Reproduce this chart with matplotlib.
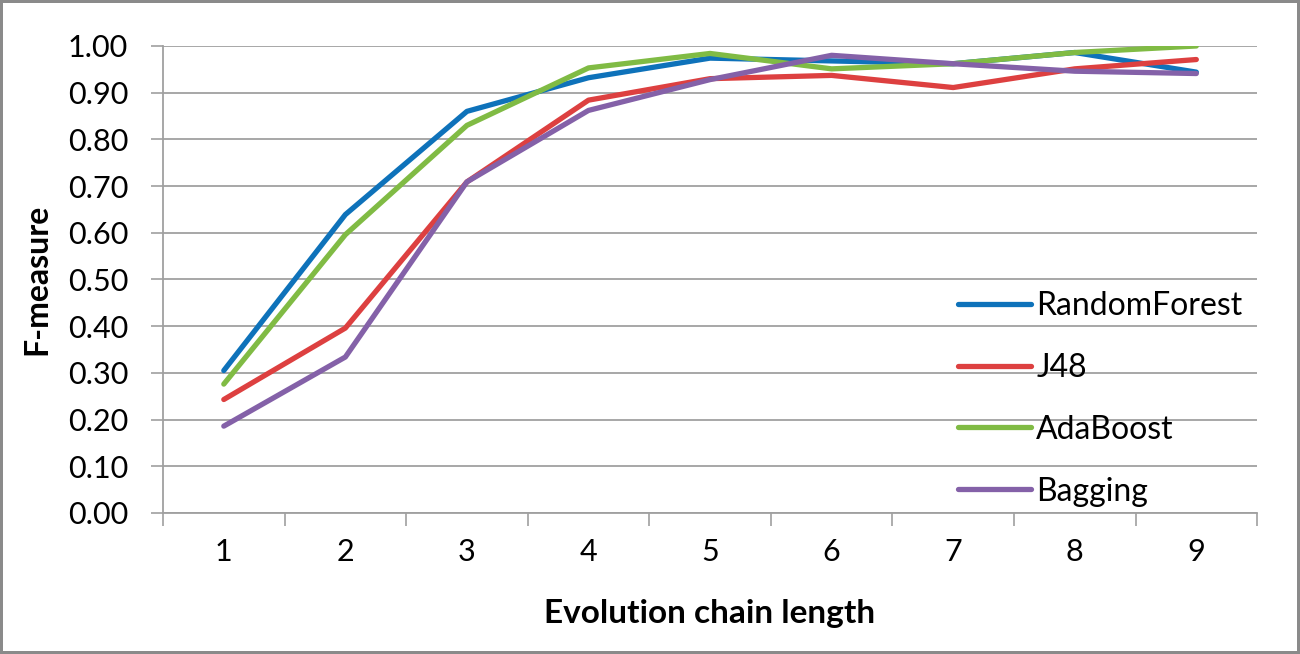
import numpy as np
import matplotlib
matplotlib.use("Agg")
import matplotlib.pyplot as plt

chain_length = [1, 2, 3, 4, 5, 6, 7, 8, 9]
random_forest = [0.305, 0.639, 0.860, 0.932, 0.974, 0.968, 0.962, 0.986, 0.944]
j48 = [0.243, 0.396, 0.709, 0.884, 0.930, 0.937, 0.911, 0.951, 0.971]
adaboost = [0.276, 0.596, 0.830, 0.953, 0.984, 0.951, 0.962, 0.986, 1.000]
bagging = [0.186, 0.334, 0.709, 0.862, 0.928, 0.980, 0.962, 0.946, 0.941]

series = [
    ("RandomForest", random_forest, "#0E72BA"),
    ("J48", j48, "#DD4040"),
    ("AdaBoost", adaboost, "#80BB44"),
    ("Bagging", bagging, "#8461A8"),
]

plt.rcParams['font.family'] = ['Lato', 'DejaVu Sans']

fig = plt.figure(figsize=(13, 6.54), dpi=100)
fig.patch.set_edgecolor("#8a8a8a")
fig.patch.set_linewidth(4)
ax = fig.add_axes([0.1254, 0.2156, 0.8416, 0.7141])

for name, vals, col in series:
    ax.plot(chain_length, vals, color=col, lw=3.8, label=name, solid_capstyle='round')

ax.set_xlim(0.5, 9.5)
ax.set_ylim(0, 1.0)
ax.set_yticks(np.arange(0, 1.01, 0.1))
ax.set_yticklabels([f"{v:.2f}" for v in np.arange(0, 1.01, 0.1)])
ax.set_xticks(chain_length)
ax.set_xticks(np.arange(0.5, 9.6, 1.0), minor=True)
ax.tick_params(axis='x', which='major', length=0, labelsize=22, pad=18)
ax.tick_params(axis='x', which='minor', length=9, width=1.2, color="#a0a0a0")
ax.tick_params(axis='y', length=9, width=1.2, color="#a0a0a0", labelsize=22, pad=16)

ax.grid(axis='y', color="#a0a0a0", lw=1.3)
ax.set_axisbelow(True)
for s in ['top', 'right']:
    ax.spines[s].set_visible(False)
for s in ['left', 'bottom']:
    ax.spines[s].set_color("#a0a0a0")
    ax.spines[s].set_linewidth(1.3)

ax.set_xlabel("Evolution chain length", fontsize=24, fontweight='bold', labelpad=24)
ax.set_ylabel("F-measure", fontsize=23, fontweight='bold', labelpad=12)

ax.legend(loc='upper left', bbox_to_anchor=(0.712, 0.51), frameon=False,
          fontsize=23, handlelength=2.3, handletextpad=0.15, labelspacing=1.0,
          borderpad=0)

fig.savefig("out.png", dpi=100)
